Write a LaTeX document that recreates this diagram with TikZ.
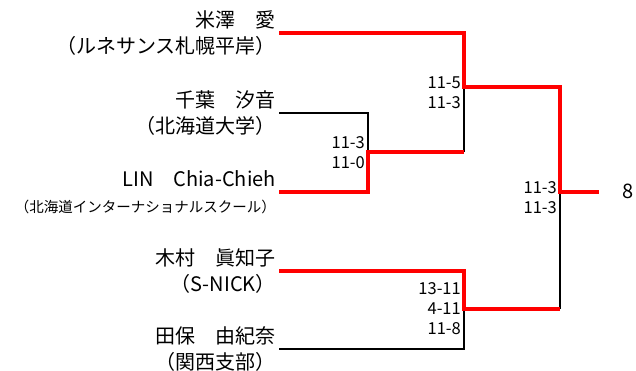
\documentclass[tikz,border=0pt]{standalone}
\usepackage{fontspec}
\setmainfont{Noto Sans CJK JP}
\usepackage{tikz}

\begin{document}
\begin{tikzpicture}[x=1pt,y=-1pt,
            player/.style={anchor=east,align=right,inner xsep=3pt,inner ysep=0pt,font=\fontsize{20}{26}\selectfont},
            score/.style={anchor=east,align=right,inner sep=0pt,font=\fontsize{16.5}{20}\selectfont},
            lost/.style={line width=1.3pt,black},
            won/.style={line width=3.5pt,red}]
            \useasboundingbox (0,0) rectangle (636,371);

            \node[player] (p1) at (279,33) {米澤　愛\\（ルネサンス札幌平岸）};
            \node[player] (p2) at (279,113) {千葉　汐音\\（北海道大学）};
            \node[player] (p3) at (279,192) {LIN　Chia-Chieh\\{\fontsize{14.5}{20}\selectfont（北海道インターナショナルスクール）}};
            \node[player] (p4) at (279,271) {木村　眞知子\\（S-NICK）};
            \node[player] (p5) at (279,349) {田保　由紀奈\\（関西支部）};

            \coordinate (q1) at (368,152);
            \coordinate (s1) at (464,87);
            \coordinate (s2) at (464,309);
            \coordinate (f) at (560,192);
            \coordinate (fin) at (599,192);
            \node[font=\fontsize{20}{22}\selectfont] (rank) at (628,191) {8};

            \node[score] (sc1) at (461,93) {11-5\\11-3};
            \node[score] (sc2) at (365,152.5) {11-3\\11-0};
            \node[score] (sc3) at (557,198) {11-3\\11-3};
            \node[score] (sc4) at (461,309) {13-11\\4-11\\11-8};

            \draw[lost] (p2.east) -| (q1);
            \draw[lost] (q1 -| s1) -- (s1);
            \draw[lost] (p5.east) -| (s2);
            \draw[lost] (s2 -| f) -- (f);

            \draw[won] (p1.east) -| (s1) -| (f) -- (fin);
            \draw[won] (p3.east) -| (q1) -- (q1 -| s1);
            \draw[won] (p4.east) -| (s2) -- (s2 -| f);
        \end{tikzpicture}
\end{document}
